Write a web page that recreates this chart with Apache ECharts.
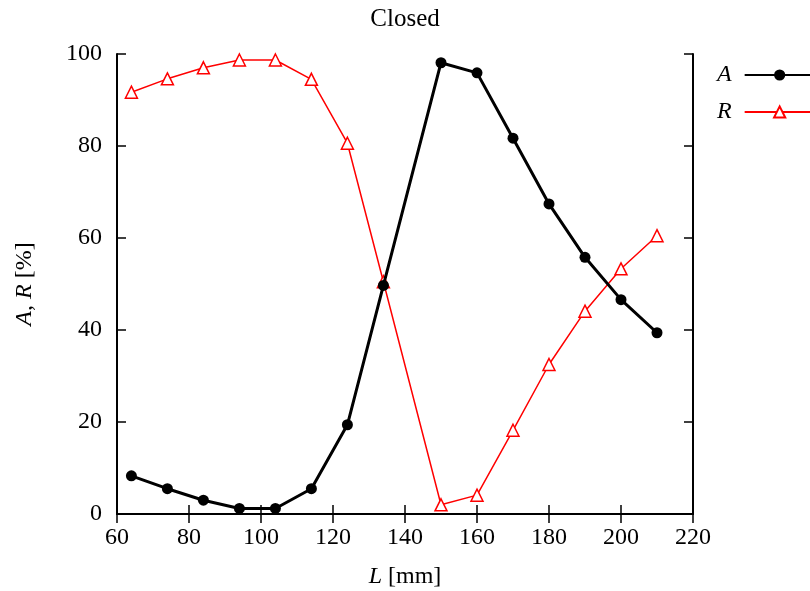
<!DOCTYPE html>
<html><head><meta charset="utf-8">
<script src="https://cdn.jsdelivr.net/npm/echarts@6/dist/echarts.min.js"></script>
<style>html,body{margin:0;padding:0;background:#fff}#c{width:810px;height:591px}</style>
</head><body><div id="c"></div>
<script>
var L = [64, 74, 84, 94, 104, 114, 124, 134, 150, 160, 170, 180, 190, 200, 210];
var A = [8.3, 5.5, 3.0, 1.2, 1.2, 5.5, 19.4, 49.7, 98.1, 95.9, 81.7, 67.4, 55.8, 46.6, 39.4];
var R = [91.7, 94.6, 97.0, 98.7, 98.7, 94.5, 80.6, 50.5, 2.0, 4.1, 18.2, 32.5, 44.1, 53.3, 60.5];
var xTicks = [60, 80, 100, 120, 140, 160, 180, 200, 220];
var yTicks = [0, 20, 40, 60, 80, 100];

var FONT = 'Liberation Serif';
var FS = 24;
var chart = echarts.init(document.getElementById('c'), null, {renderer: 'canvas'});
function pairs(xs, ys) { return xs.map(function (x, i) { return [x, ys[i]]; }); }
var axisBase = {
  axisLine: {show: true, lineStyle: {color: '#000', width: 2}},
  axisTick: {show: true, inside: true, length: 9, lineStyle: {color: '#000', width: 1.5}},
  splitLine: {show: false}
};
chart.setOption({
  animation: false,
  backgroundColor: '#fff',
  title: {text: 'Closed', left: 'center', top: 2,
    textStyle: {fontFamily: FONT, fontSize: 25, fontWeight: 'normal', color: '#000'}},
  grid: {left: 117, right: 117, top: 54, bottom: 77, containLabel: false, outerBoundsMode: 'none'},
  legend: {
    orient: 'vertical', left: 712, top: 58, align: 'right',
    itemWidth: 70, itemHeight: 14, itemGap: 13,
    textStyle: {fontFamily: FONT, fontSize: FS, fontStyle: 'italic', color: '#000', padding: [0, 8, 0, 0]},
    data: ['A', 'R']
  },
  xAxis: [
    Object.assign({}, axisBase, {
      type: 'value', min: xTicks[0], max: xTicks[xTicks.length - 1], interval: 20,
      position: 'bottom',
      axisLabel: {fontFamily: FONT, fontSize: FS, color: '#000', margin: 12},
      name: '{i|L} [mm]', nameLocation: 'middle', nameGap: 51,
      nameTextStyle: {fontFamily: FONT, fontSize: FS, color: '#000',
        rich: {i: {fontFamily: FONT, fontSize: FS, fontStyle: 'italic', color: '#000'}}}
    }),
    Object.assign({}, axisBase, {
      type: 'value', min: xTicks[0], max: xTicks[xTicks.length - 1], interval: 20,
      position: 'top', axisLabel: {show: false}
    })
  ],
  yAxis: [
    Object.assign({}, axisBase, {
      type: 'value', min: yTicks[0], max: yTicks[yTicks.length - 1], interval: 20,
      position: 'left',
      axisLabel: {fontFamily: FONT, fontSize: FS, color: '#000', margin: 15},
      name: '{i|A}, {i|R} [%]', nameLocation: 'middle', nameGap: 80, nameRotate: 90,
      nameTextStyle: {fontFamily: FONT, fontSize: FS, color: '#000',
        rich: {i: {fontFamily: FONT, fontSize: FS, fontStyle: 'italic', color: '#000'}}}
    }),
    Object.assign({}, axisBase, {
      type: 'value', min: yTicks[0], max: yTicks[yTicks.length - 1], interval: 20,
      position: 'right', axisLabel: {show: false}
    })
  ],
  series: [
    {name: 'A', type: 'line', data: pairs(L, A), xAxisIndex: 0, yAxisIndex: 0,
      symbol: 'circle', symbolSize: 11, showAllSymbol: true,
      lineStyle: {color: '#000', width: 3}, itemStyle: {color: '#000'}, z: 3},
    {name: 'R', type: 'line', data: pairs(L, R), xAxisIndex: 0, yAxisIndex: 0,
      symbol: 'triangle', symbolSize: 12, showAllSymbol: true,
      lineStyle: {color: '#ff0000', width: 1.5},
      itemStyle: {color: '#fff', borderColor: '#ff0000', borderWidth: 1.5}, z: 2}
  ]
});
</script></body></html>
